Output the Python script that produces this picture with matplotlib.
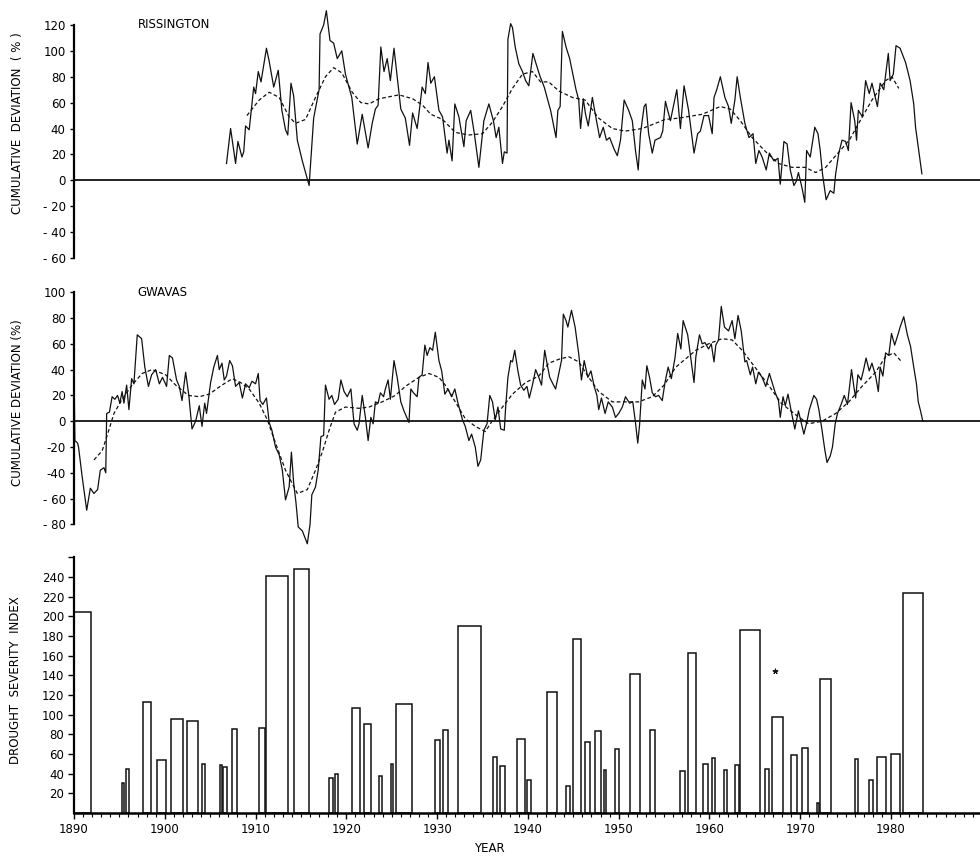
import matplotlib
matplotlib.use("Agg")
import matplotlib.pyplot as plt

plt.rcParams['font.family'] = ['Liberation Sans Narrow', 'DejaVu Sans']

# Rissington cumulative deviation (%), monthly-ish trace
riss_year = [1906.8, 1907.25, 1907.8, 1908.06, 1908.5, 1908.7, 1908.9, 1909.3, 1909.8, 1910.0,
             1910.3, 1910.6, 1911.2, 1911.5, 1912.0, 1912.5, 1912.9, 1913.3, 1913.55, 1913.9,
             1914.2, 1914.6, 1915.15, 1915.9, 1916.4, 1917.0, 1917.1, 1917.5, 1917.8, 1918.2,
             1918.6, 1919.0, 1919.5, 1919.9, 1920.6, 1921.2, 1921.75, 1922.4, 1922.85, 1923.2,
             1923.5, 1923.8, 1924.15, 1924.5, 1924.85, 1925.25, 1926.0, 1926.5, 1926.96, 1927.3,
             1927.8, 1928.35, 1928.7, 1929.0, 1929.3, 1929.7, 1930.2, 1930.6, 1931.1, 1931.3,
             1931.65, 1931.95, 1932.4, 1932.95, 1933.2, 1933.7, 1934.1, 1934.6, 1935.15, 1935.7,
             1936.2, 1936.5, 1936.8, 1937.2, 1937.4, 1937.7, 1937.8, 1938.1, 1938.3, 1938.6,
             1939.0, 1939.4, 1939.75, 1940.1, 1940.55, 1940.9, 1941.3, 1941.8, 1942.5, 1943.1,
             1943.3, 1943.55, 1943.8, 1944.2, 1944.6, 1945.3, 1945.6, 1945.8, 1946.1, 1946.35,
             1946.65, 1947.1, 1947.4, 1947.9, 1948.3, 1948.65, 1949.0, 1949.5, 1949.85, 1950.2,
             1950.6, 1951.1, 1951.5, 1951.85, 1952.15, 1952.4, 1952.8, 1953.0, 1953.3, 1953.7,
             1954.0, 1954.6, 1954.85, 1955.15, 1955.4, 1955.7, 1956.4, 1956.8, 1957.2, 1957.7,
             1958.3, 1958.7, 1959.0, 1959.4, 1959.9, 1960.3, 1960.5, 1960.8, 1961.2, 1961.7,
             1962.1, 1962.4, 1962.8, 1963.05, 1963.4, 1963.9, 1964.35, 1964.8, 1965.1, 1965.45,
             1965.8, 1966.25, 1966.6, 1967.1, 1967.55, 1967.8, 1968.2, 1968.55, 1968.9, 1969.3,
             1969.55, 1969.8, 1970.2, 1970.5, 1970.7, 1971.1, 1971.6, 1971.95, 1972.2, 1972.45,
             1972.85, 1973.3, 1973.7, 1973.9, 1974.25, 1974.6, 1975.0, 1975.3, 1975.6, 1976.0,
             1976.2, 1976.4, 1976.85, 1977.2, 1977.6, 1977.9, 1978.5, 1978.8, 1979.2, 1979.7,
             1979.9, 1980.25, 1980.55, 1981.0, 1981.6, 1982.1, 1982.5, 1982.7, 1983.05, 1983.4]
riss_dev = [13, 40, 13, 30, 18, 22, 42, 39, 72, 67,
            84, 76, 102, 92, 72, 85, 54, 39, 35, 75,
            65, 31, 15, -4, 48, 70, 113, 120, 131, 108,
            106, 94, 100, 82, 64, 28, 51, 25, 44, 55,
            58, 103, 84, 94, 77, 102, 55, 48, 27, 52,
            40, 72, 67, 91, 75, 80, 54, 49, 21, 31,
            15, 59, 49, 26, 46, 54, 36, 10, 46, 59,
            46, 33, 41, 13, 22, 21, 109, 121, 118, 103,
            90, 84, 77, 73, 98, 90, 81, 72, 54, 33,
            54, 57, 115, 103, 94, 70, 62, 40, 63, 51,
            42, 64, 52, 33, 41, 31, 33, 24, 19, 31,
            62, 54, 46, 23, 8, 36, 57, 59, 36, 21,
            31, 33, 38, 61, 54, 46, 70, 40, 73, 54,
            21, 36, 38, 50, 50, 36, 64, 70, 80, 64,
            57, 44, 62, 80, 64, 44, 33, 36, 13, 23,
            18, 8, 21, 15, 17, -3, 30, 28, 8, -4,
            -1, 6, -6, -17, 23, 18, 41, 36, 23, 5,
            -15, -8, -10, 5, 21, 31, 30, 23, 60, 46,
            31, 54, 49, 77, 67, 75, 57, 75, 70, 98,
            77, 82, 104, 102, 91, 77, 59, 41, 23, 5]

# Rissington smoothed trend
riss_trend_year = [1909.05, 1910.4, 1911.5, 1912.6, 1913.7, 1914.4, 1915.5, 1916.6, 1917.7, 1918.6,
                   1919.5, 1920.65, 1921.6, 1922.5, 1923.6, 1925.8, 1927.3, 1928.4, 1929.3, 1930.6,
                   1932.0, 1933.5, 1935.0, 1936.1, 1937.2, 1938.3, 1939.4, 1940.5, 1941.4, 1942.3,
                   1943.4, 1944.9, 1946.3, 1947.8, 1949.3, 1950.7, 1952.6, 1954.05, 1955.1, 1956.6,
                   1959.2, 1961.2, 1962.3, 1963.4, 1964.7, 1966.2, 1967.6, 1969.1, 1970.55, 1971.7,
                   1972.8, 1973.9, 1975.4, 1976.6, 1977.9, 1979.4, 1980.1, 1980.85]
riss_trend = [50, 62, 68, 64, 49, 44, 47, 64, 80, 87,
              83, 68, 60, 59, 63, 66, 63, 58, 51, 47,
              37, 35, 36, 45, 57, 71, 82, 84, 76, 76,
              69, 64, 62, 48, 40, 38, 40, 44, 47, 48,
              51, 57, 55, 46, 33, 22, 13, 10, 10, 6,
              10, 19, 31, 46, 62, 77, 80, 71]

# Gwavas cumulative deviation (%)
gwav_year = [1890.0, 1890.1, 1890.4, 1890.5, 1890.9, 1891.4, 1891.8, 1892.2, 1892.6, 1892.9,
             1893.3, 1893.5, 1893.6, 1893.9, 1894.2, 1894.5, 1894.8, 1895.05, 1895.3, 1895.5,
             1895.8, 1896.05, 1896.35, 1896.6, 1896.97, 1897.45, 1897.8, 1898.2, 1898.55, 1899.0,
             1899.4, 1899.75, 1900.2, 1900.5, 1900.85, 1901.3, 1901.6, 1901.9, 1902.3, 1902.65,
             1903.0, 1903.4, 1903.8, 1904.1, 1904.4, 1904.6, 1905.05, 1905.4, 1905.8, 1906.0,
             1906.3, 1906.55, 1906.8, 1907.15, 1907.45, 1907.8, 1908.2, 1908.55, 1908.9, 1909.3,
             1909.6, 1910.0, 1910.3, 1910.5, 1910.8, 1911.2, 1911.5, 1911.8, 1912.2, 1912.6,
             1912.95, 1913.3, 1913.7, 1913.95, 1914.2, 1914.45, 1914.7, 1915.15, 1915.7, 1916.0,
             1916.2, 1916.6, 1916.9, 1917.2, 1917.5, 1917.7, 1918.1, 1918.4, 1918.7, 1919.1,
             1919.4, 1919.75, 1920.1, 1920.5, 1920.85, 1921.2, 1921.4, 1921.75, 1922.1, 1922.4,
             1922.7, 1922.95, 1923.2, 1923.5, 1923.75, 1924.1, 1924.3, 1924.6, 1924.85, 1925.25,
             1925.6, 1926.0, 1926.35, 1926.9, 1927.1, 1927.4, 1927.8, 1928.0, 1928.35, 1928.65,
             1928.9, 1929.2, 1929.5, 1929.8, 1930.2, 1930.5, 1930.85, 1931.2, 1931.6, 1931.95,
             1932.3, 1932.8, 1933.1, 1933.5, 1933.8, 1934.2, 1934.5, 1934.8, 1935.15, 1935.5,
             1935.8, 1936.1, 1936.4, 1936.7, 1937.0, 1937.4, 1937.55, 1937.8, 1938.1, 1938.3,
             1938.55, 1938.9, 1939.2, 1939.55, 1939.9, 1940.15, 1940.5, 1940.85, 1941.2, 1941.5,
             1941.85, 1942.1, 1942.4, 1942.75, 1943.05, 1943.4, 1943.7, 1943.9, 1944.2, 1944.4,
             1944.8, 1945.2, 1945.6, 1945.9, 1946.2, 1946.6, 1946.95, 1947.3, 1947.6, 1947.8,
             1948.1, 1948.5, 1948.85, 1949.3, 1949.65, 1950.0, 1950.4, 1950.75, 1951.2, 1951.55,
             1951.85, 1952.1, 1952.3, 1952.6, 1952.9, 1953.1, 1953.4, 1953.7, 1954.05, 1954.4,
             1954.8, 1955.1, 1955.45, 1955.8, 1956.2, 1956.5, 1956.85, 1957.1, 1957.6, 1958.3,
             1958.5, 1958.9, 1959.2, 1959.5, 1959.9, 1960.2, 1960.5, 1960.7, 1961.0, 1961.3,
             1961.65, 1962.1, 1962.5, 1962.8, 1963.15, 1963.5, 1963.9, 1964.1, 1964.5, 1964.75,
             1965.1, 1965.4, 1965.8, 1966.2, 1966.6, 1966.95, 1967.25, 1967.6, 1967.8, 1968.1,
             1968.35, 1968.65, 1969.0, 1969.4, 1969.8, 1970.1, 1970.4, 1970.75, 1971.0, 1971.5,
             1971.8, 1972.05, 1972.4, 1972.7, 1972.95, 1973.3, 1973.55, 1973.85, 1974.1, 1974.5,
             1974.85, 1975.2, 1975.65, 1975.9, 1976.1, 1976.35, 1976.7, 1976.95, 1977.25, 1977.6,
             1977.9, 1978.3, 1978.6, 1978.8, 1979.1, 1979.4, 1979.75, 1980.05, 1980.4, 1980.8,
             1981.0, 1981.4, 1981.8, 1982.15, 1982.5, 1982.8, 1983.0, 1983.25, 1983.5]
gwav_dev = [38, -15, -17, -20, -43, -69, -52, -56, -53, -38,
            -36, -40, 6, 7, 19, 17, 20, 14, 23, 14,
            28, 9, 33, 29, 67, 64, 42, 27, 36, 40,
            29, 34, 27, 51, 49, 32, 27, 16, 38, 20,
            -6, 0, 12, -4, 14, 6, 30, 42, 51, 40,
            45, 32, 35, 47, 43, 27, 30, 18, 29, 26,
            31, 29, 37, 16, 13, 18, -1, -7, -20, -26,
            -38, -61, -51, -24, -48, -63, -82, -85, -95, -80,
            -57, -51, -38, -12, -11, 28, 17, 20, 13, 17,
            32, 23, 19, 25, -2, -7, -2, 20, 3, -15,
            3, -2, 15, 14, 22, 19, 25, 32, 17, 47,
            34, 15, 8, -1, 25, 22, 19, 34, 36, 59,
            51, 57, 55, 69, 47, 39, 21, 25, 19, 25,
            14, 1, -4, -15, -10, -20, -35, -30, -7, -2,
            20, 15, 1, 11, -6, -7, 11, 34, 47, 46,
            55, 39, 28, 24, 27, 18, 28, 40, 34, 28,
            55, 45, 34, 29, 25, 37, 47, 83, 78, 73,
            86, 73, 52, 32, 47, 34, 39, 27, 20, 9,
            18, 6, 15, 11, 3, 6, 11, 19, 14, 15,
            -1, -17, -3, 32, 25, 43, 34, 22, 19, 20,
            16, 30, 42, 33, 49, 68, 56, 78, 67, 30,
            50, 67, 60, 61, 56, 60, 46, 59, 63, 89,
            73, 70, 78, 64, 82, 70, 46, 47, 36, 42,
            29, 38, 34, 27, 37, 29, 22, 16, 3, 19,
            12, 21, 8, -6, 8, -1, -10, 0, 9, 20,
            17, 9, -7, -22, -32, -27, -20, -2, 6, 13,
            20, 13, 40, 27, 18, 36, 32, 39, 49, 39,
            45, 35, 23, 42, 35, 53, 51, 68, 59, 68,
            73, 81, 67, 58, 42, 29, 15, 8, 0]

# Gwavas smoothed trend
gwav_trend_year = [1892.2, 1893.1, 1893.7, 1894.4, 1895.3, 1896.4, 1897.5, 1898.6, 1900.1, 1901.2,
                   1902.6, 1903.8, 1904.9, 1906.3, 1907.45, 1908.35, 1909.3, 1910.4, 1911.3, 1912.2,
                   1913.3, 1914.6, 1915.7, 1916.6, 1917.35, 1918.1, 1918.8, 1919.9, 1921.4, 1922.5,
                   1923.95, 1925.4, 1926.5, 1928.0, 1929.1, 1930.2, 1930.9, 1932.0, 1933.1, 1934.2,
                   1935.3, 1936.05, 1937.2, 1938.3, 1939.75, 1941.2, 1942.3, 1943.4, 1944.5, 1945.6,
                   1946.7, 1947.8, 1949.3, 1950.75, 1952.2, 1953.7, 1955.0, 1956.3, 1958.5, 1959.9,
                   1961.4, 1962.5, 1963.6, 1965.0, 1966.5, 1967.9, 1969.5, 1970.9, 1972.4, 1973.9,
                   1975.35, 1976.8, 1978.3, 1979.4, 1980.3, 1981.05]
gwav_trend = [-30, -23, -10, 6, 17, 28, 37, 40, 36, 28,
              20, 19, 21, 28, 33, 30, 25, 14, 1, -17,
              -38, -56, -53, -38, -24, -7, 7, 11, 10, 11,
              15, 20, 27, 34, 37, 34, 28, 15, 2, -4,
              -8, 0, 11, 21, 30, 35, 45, 48, 50, 46,
              34, 23, 15, 15, 15, 19, 28, 42, 55, 60,
              64, 63, 55, 42, 28, 14, 5, -2, 0, 6,
              15, 27, 38, 50, 53, 47]

# Drought events: start year, end year, severity index
drought_start = [1890.0, 1895.25, 1895.75, 1897.6, 1899.1, 1900.7, 1902.4, 1904.1, 1906.1, 1906.4,
                 1907.45, 1910.4, 1911.2, 1914.2, 1918.1, 1918.8, 1920.6, 1921.95, 1923.65, 1924.9,
                 1925.5, 1929.8, 1930.7, 1932.3, 1936.15, 1936.95, 1938.8, 1939.9, 1942.05, 1944.2,
                 1945.0, 1946.3, 1947.35, 1948.4, 1949.55, 1951.2, 1953.4, 1956.8, 1957.6, 1959.3,
                 1960.3, 1961.6, 1962.85, 1963.35, 1966.1, 1966.9, 1969.0, 1970.2, 1971.85, 1972.2,
                 1976.0, 1977.55, 1978.4, 1980.05, 1981.3]
drought_end = [1891.9, 1895.5, 1896.05, 1898.45, 1900.15, 1902.0, 1903.65, 1904.4, 1906.35, 1906.8,
               1907.95, 1911.0, 1913.55, 1915.9, 1918.5, 1919.1, 1921.5, 1922.7, 1923.95, 1925.15,
               1927.2, 1930.3, 1931.2, 1934.85, 1936.6, 1937.5, 1939.65, 1940.35, 1943.2, 1944.6,
               1945.9, 1946.85, 1948.1, 1948.6, 1950.0, 1952.35, 1953.95, 1957.25, 1958.55, 1959.8,
               1960.65, 1961.95, 1963.25, 1965.6, 1966.6, 1968.1, 1969.65, 1970.85, 1972.05, 1973.4,
               1976.35, 1978.0, 1979.4, 1980.95, 1983.55]
drought_index = [205, 31, 45, 113, 54, 96, 94, 50, 49, 47,
                 85, 87, 241, 248, 36, 40, 107, 91, 38, 50,
                 111, 74, 84, 190, 57, 48, 75, 34, 123, 27,
                 177, 72, 83, 44, 65, 141, 84, 43, 163, 50,
                 56, 44, 49, 186, 45, 98, 59, 66, 10, 136,
                 55, 34, 57, 60, 224]
flag_year, flag_value = 1967.2, 144

ink = '#111111'
fs = 8.5
x_min, x_max = 1890, 1989.8

fig = plt.figure(figsize=(9.8, 8.57), dpi=100)
ax1 = fig.add_axes([0.0755, 0.699, 0.9245, 0.290])
ax2 = fig.add_axes([0.0755, 0.358, 0.9245, 0.301])
ax3 = fig.add_axes([0.0755, 0.0513, 0.9245, 0.2982])


def line_panel(ax, yr, dev, tyr, trend, lo, hi, bounds, ticks, labels, name, name_y):
    ax.plot(yr, dev, color=ink, lw=0.9)
    ax.plot(tyr, trend, color=ink, lw=0.9, dashes=(3, 2))
    ax.axhline(0, color=ink, lw=1.3)
    ax.set_xlim(x_min, x_max)
    ax.set_ylim(lo, hi)
    for s in ('top', 'right', 'bottom'):
        ax.spines[s].set_visible(False)
    ax.spines['left'].set_bounds(*bounds)
    ax.spines['left'].set_linewidth(1.6)
    ax.set_xticks([])
    ax.set_yticks(ticks)
    ax.set_yticklabels(labels)
    ax.tick_params(axis='y', direction='out', length=3, width=1, labelsize=fs, pad=3)
    ax.text(1897.0, name_y, name, fontsize=fs, ha='left', va='center')


line_panel(ax1, riss_year, riss_dev, riss_trend_year, riss_trend, -60, 132, (-60, 120),
           list(range(-60, 121, 20)),
           ['- 60', '- 40', '- 20', '0', '20', '40', '60', '80', '100', '120'],
           'RISSINGTON', 120)
line_panel(ax2, gwav_year, gwav_dev, gwav_trend_year, gwav_trend, -100, 100, (-80, 100),
           list(range(-80, 101, 20)),
           ['- 80', '- 60', '-40', '-20', '0', '20', '40', '60', '80', '100'],
           'GWAVAS', 100)

# drought severity bars, drawn as open boxes
widths = [e - s for s, e in zip(drought_start, drought_end)]
ax3.bar(drought_start, drought_index, width=widths, align='edge',
        facecolor='white', edgecolor=ink, linewidth=1.1)
ax3.plot(flag_year, flag_value, marker=(5, 2), color=ink, ms=4, mew=0.8)
ax3.set_xlim(x_min, x_max)
ax3.set_ylim(0, 260)
for s in ('top', 'right'):
    ax3.spines[s].set_visible(False)
ax3.spines['left'].set_linewidth(1.6)
ax3.spines['bottom'].set_linewidth(1.8)
ax3.set_yticks(list(range(20, 261, 20)))
ax3.set_yticklabels([str(v) for v in range(20, 241, 20)] + [''])
ax3.set_xticks(list(range(1890, 1990, 10)))
ax3.set_xticks(list(range(1890, 1990)), minor=True)
ax3.tick_params(axis='both', which='major', direction='out', length=4, width=1,
                labelsize=fs, pad=3)
ax3.tick_params(axis='x', which='minor', direction='out', length=3, width=0.8)

fig.text(0.018, 1 - 123 / 857, 'CUMULATIVE  DEVIATION  ( % )', rotation=90,
         ha='center', va='center', fontsize=fs)
fig.text(0.018, 1 - 403 / 857, 'CUMULATIVE DEVIATION (%)', rotation=90,
         ha='center', va='center', fontsize=fs)
fig.text(0.016, 1 - 680 / 857, 'DROUGHT  SEVERITY  INDEX', rotation=90,
         ha='center', va='center', fontsize=fs)
fig.text(0.499, 1 - 848 / 857, 'YEAR', ha='center', va='center', fontsize=fs)

fig.savefig('out.png', dpi=100, facecolor='white')
